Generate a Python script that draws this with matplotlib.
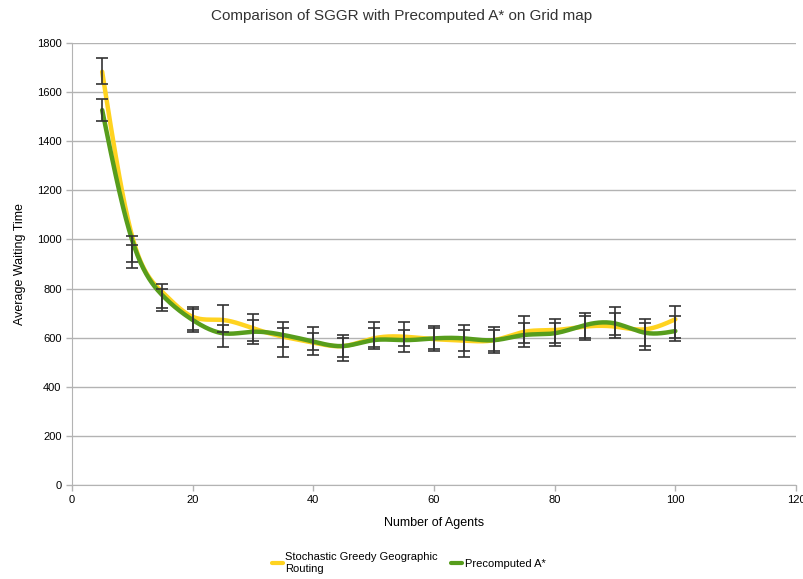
import numpy as np
import matplotlib
matplotlib.use("Agg")
import matplotlib.pyplot as plt

plt.rcParams['font.family'] = ['Liberation Sans', 'DejaVu Sans']

agents = [5, 10, 15, 20, 25, 30, 35, 40, 45, 50, 55, 60, 65, 70, 75, 80, 85, 90, 95, 100]
sggr = [1683, 1010, 785, 685, 672, 638, 604, 580, 566, 597, 604, 594, 588, 590, 624, 631, 645, 645, 634, 675]
astar = [1527, 995, 772, 672, 618, 624, 611, 584, 566, 590, 590, 597, 597, 590, 611, 618, 651, 658, 620, 627]
sggr_lo = [1633, 882, 708, 624, 561, 574, 522, 529, 506, 553, 540, 546, 522, 536, 563, 566, 590, 597, 550, 586]
sggr_hi = [1739, 1015, 818, 726, 733, 695, 663, 642, 611, 663, 663, 647, 651, 645, 689, 675, 699, 724, 676, 729]
astar_lo = [1483, 909, 720, 630, 624, 585, 560, 550, 520, 560, 565, 555, 545, 545, 580, 580, 600, 610, 565, 600]
astar_hi = [1572, 977, 800, 715, 651, 670, 640, 620, 600, 640, 630, 640, 630, 630, 660, 660, 690, 700, 660, 690]


def spline(x, y, n=600):
    x = np.asarray(x, float); y = np.asarray(y, float)
    m = len(x); h = np.diff(x)
    A = np.zeros((m, m)); b = np.zeros(m)
    A[0, 0] = A[-1, -1] = 1
    for i in range(1, m - 1):
        A[i, i - 1] = h[i - 1]; A[i, i] = 2 * (h[i - 1] + h[i]); A[i, i + 1] = h[i]
        b[i] = 6 * ((y[i + 1] - y[i]) / h[i] - (y[i] - y[i - 1]) / h[i - 1])
    M = np.linalg.solve(A, b)
    xs = np.linspace(x[0], x[-1], n)
    idx = np.clip(np.searchsorted(x, xs) - 1, 0, m - 2)
    x0 = x[idx]; x1 = x[idx + 1]; hh = x1 - x0
    t0 = x1 - xs; t1 = xs - x0
    ys = (M[idx] * t0**3 + M[idx + 1] * t1**3) / (6 * hh) + (y[idx] / hh - M[idx] * hh / 6) * t0 + (y[idx + 1] / hh - M[idx + 1] * hh / 6) * t1
    return xs, ys


fig = plt.figure(figsize=(8.04, 5.79), dpi=100)
ax = fig.add_axes([72 / 804, 1 - 485 / 579, 724 / 804, 442 / 579])

yellow = '#FFD320'
green = '#579D1C'
xs, ys = spline(agents, sggr)
ax.plot(xs, ys, color=yellow, lw=3.2, label='Stochastic Greedy Geographic\nRouting', zorder=3, solid_capstyle='round')
xs, ys = spline(agents, astar)
ax.plot(xs, ys, color=green, lw=3.2, label='Precomputed A*', zorder=3, solid_capstyle='round')

for lo, hi in [(sggr_lo, sggr_hi), (astar_lo, astar_hi)]:
    lo = np.array(lo, float); hi = np.array(hi, float)
    mid = (lo + hi) / 2
    ax.errorbar(agents, mid, yerr=(hi - lo) / 2, fmt='none',
                ecolor='#333333', elinewidth=1.2, capsize=4, capthick=1.2, zorder=4)

ax.set_xlim(0, 120)
ax.set_ylim(0, 1800)
ax.set_xticks(np.arange(0, 121, 20))
ax.set_yticks(np.arange(0, 1801, 200))
ax.yaxis.grid(True, color='#b3b3b3', lw=1)
ax.set_axisbelow(True)
for sp in ['top', 'right']:
    ax.spines[sp].set_visible(False)
for sp in ['left', 'bottom']:
    ax.spines[sp].set_color('#b3b3b3')
ax.tick_params(axis='both', colors='#b3b3b3', labelcolor='black', labelsize=8, length=4, width=1)
ax.set_xlabel('Number of Agents', fontsize=9, labelpad=8)
ax.set_ylabel('Average Waiting Time', fontsize=9, labelpad=8)
fig.suptitle('Comparison of SGGR with Precomputed A* on Grid map', fontsize=11, y=0.985, color='#333333')

leg = ax.legend(loc='upper center', bbox_to_anchor=(0.465, -0.13), ncol=2, frameon=False,
                fontsize=8, handlelength=1.0, handletextpad=0.2, columnspacing=1.2)
for h in leg.get_lines():
    h.set_linewidth(3)

fig.savefig('out.png', dpi=100)
